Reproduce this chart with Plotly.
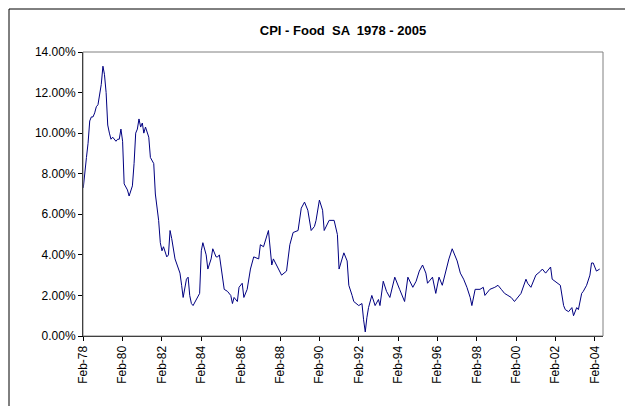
import plotly.graph_objects as go
import pandas as pd

# months since Feb-1978 and CPI-Food SA yoy (%)
months = [0,1,2,3,4,5,6,7,8,9,10,11,12,13,14,15,16,17,18,19,20,21,22,23,24,25,27,28,30,31,32,33,34,35,36,37,38,40,41,43,44,46,47,48,49,51,52,53,54,56,58,59,60,61,63,64,65,66,67,70,71,72,73,75,76,78,79,81,82,83,86,88,90,91,92,94,95,97,98,100,102,104,
          107,108,110,113,115,116,119,121,124,126,128,131,133,135,137,139,141,142,144,146,147,150,153,155,156,159,161,162,164,165,168,170,171,172,173,174,176,178,180,181,183,185,187,190,193,196,198,201,203,205,207,209,210,
          213,215,217,219,221,223,225,227,228,230,232,234,236,237,239,242,244,245,248,251,253,255,257,259,261,263,265,267,270,271,273,276,279,280,282,285,286,289,291,293,294,296,298,299,301,302,304,305,307,309,310,311,313,315]
values = [7.3,8.2,8.8,9.5,10.6,10.8,10.8,11.0,11.3,11.4,11.8,12.4,13.3,12.9,12.0,10.4,10.0,9.7,9.8,9.7,9.6,9.7,9.7,10.2,9.6,7.5,7.2,6.9,7.4,8.5,10.0,10.2,10.7,10.3,10.5,10.0,10.3,9.8,8.8,8.5,7.0,5.7,4.6,4.2,4.4,3.9,4.0,5.2,4.8,3.8,3.4,3.1,2.5,1.9,2.8,2.9,2.0,1.6,1.5,1.9,2.1,4.2,4.6,4.0,3.3,3.8,4.3,3.9,3.9,4.0,2.3,2.2,2.0,1.6,1.9,1.7,2.4,2.6,1.9,2.3,3.3,3.9,
          3.8,4.5,4.4,5.2,3.5,3.8,3.3,3.0,3.2,4.5,5.1,5.2,6.3,6.6,6.2,5.2,5.4,5.7,6.7,6.2,5.2,5.7,5.7,5.0,3.3,4.1,3.7,2.5,2.0,1.7,1.5,1.6,0.8,0.2,0.9,1.4,2.0,1.5,1.8,1.5,2.7,2.2,1.9,2.9,2.3,1.7,2.9,2.4,2.7,3.2,3.5,3.1,2.6,
          2.9,2.1,2.9,2.5,3.2,3.8,4.3,3.9,3.7,3.1,2.8,2.4,1.9,1.5,2.3,2.3,2.4,2.0,2.3,2.4,2.5,2.3,2.1,2.0,1.9,1.7,1.9,2.1,2.8,2.6,2.4,3.0,3.2,3.3,3.1,3.4,2.8,2.6,2.5,1.5,1.3,1.2,1.4,1.0,1.4,1.3,2.1,2.2,2.5,3.0,3.6,3.6,3.2,3.3]
tick_labels = ["Feb-78","Feb-80","Feb-82","Feb-84","Feb-86","Feb-88","Feb-90","Feb-92","Feb-94","Feb-96","Feb-98","Feb-00","Feb-02","Feb-04"]

start = pd.Timestamp("1978-02-01")
dates = [start + pd.DateOffset(months=m) for m in months]
tickvals = [start + pd.DateOffset(months=24*i) for i in range(len(tick_labels))]

fig = go.Figure(go.Scatter(x=dates, y=[v/100 for v in values], mode="lines",
                           line=dict(color="#000080", width=1)))
W, H = 633, 406
l, r, t, b = 75, 38, 44, 78
pw, ph = W-l-r, H-t-b
fig.update_layout(
    width=W, height=H, margin=dict(l=l, r=r, t=t, b=b),
    paper_bgcolor="white", plot_bgcolor="white", showlegend=False,
    font=dict(family="Liberation Sans, Arial", size=12, color="black"),
    title=dict(text="<b>CPI - Food  SA  1978 - 2005</b>", x=0.5, xref="paper", y=1-22/H, yanchor="middle", font=dict(size=13)),
    xaxis=dict(range=[start - pd.DateOffset(days=5), pd.Timestamp("2004-07-01")], tickvals=tickvals, ticktext=tick_labels,
               tickangle=-90, showgrid=False, showline=True, linecolor="black", ticks="outside", ticklen=4, tickcolor="black",
               mirror=False, zeroline=False),
    yaxis=dict(range=[0, 0.14], dtick=0.02, tickformat=".2%", showgrid=False, showline=True, linecolor="black",
               ticks="outside", ticklen=4, tickcolor="black", zeroline=False),
    shapes=[
        dict(type="rect", xref="paper", yref="paper", x0=0, x1=1, y0=0, y1=1, line=dict(color="#808080", width=1)),
        dict(type="rect", xref="paper", yref="paper", x0=-(l-1)/pw, x1=1+(r-3)/pw, y0=-(b-3)/ph, y1=1+(t-1)/ph,
             line=dict(color="black", width=1)),
    ],
)
fig.write_html("out.html")
